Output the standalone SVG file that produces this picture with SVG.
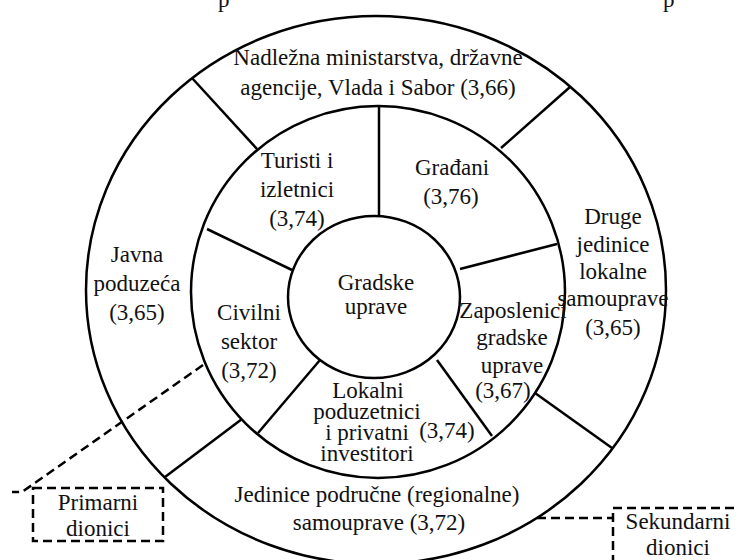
<svg xmlns="http://www.w3.org/2000/svg" width="739" height="560" viewBox="0 0 739 560">
<style>
.ring{fill:none;stroke:#000;stroke-width:2.5}
.sp{stroke:#000;stroke-width:2.5;fill:none}
.dash{stroke:#000;stroke-width:2.5;fill:none;stroke-dasharray:9,5}
text{font-family:"Liberation Serif","Times New Roman",serif;font-size:23px;fill:#111;text-anchor:middle}
</style>
<rect width="739" height="560" fill="#fff"/>
<text x="218" y="7" style="text-anchor:start">p</text>
<text x="663" y="7" style="text-anchor:start">p</text>
<g id="outer-ring">
<ellipse class="ring" cx="376" cy="290" rx="290" ry="274"/>
</g>
<g id="middle-ring">
<ellipse class="ring" cx="378" cy="292" rx="187" ry="186"/>
</g>
<g id="connectors">
<line class="sp" x1="192" y1="78" x2="257" y2="149"/>
<line class="sp" x1="570" y1="87" x2="501" y2="148"/>
<line class="sp" x1="535" y1="393" x2="612" y2="448"/>
<line class="sp" x1="242" y1="419" x2="165" y2="477"/>
<line class="sp" x1="379" y1="107" x2="379" y2="216"/>
<line class="sp" x1="460" y1="269" x2="557" y2="244"/>
<line class="sp" x1="437" y1="360" x2="492" y2="436"/>
<line class="sp" x1="320" y1="360" x2="258" y2="433"/>
<line class="sp" x1="207" y1="229" x2="292" y2="270"/>
<polyline class="dash" points="203,365 22,492 12,492"/>
<line class="dash" x1="537" y1="518" x2="612" y2="518"/>
</g>
<g id="gradske-uprave">
<ellipse class="ring" cx="374" cy="297" rx="86" ry="81" fill="#fff"/>
<text x="376" y="290">Gradske</text>
<text x="376" y="314">uprave</text>
</g>
<g id="nadlezna">
<text x="378" y="65">Nadležna ministarstva, državne</text>
<text x="378" y="95">agencije, Vlada i Sabor (3,66)</text>
</g>
<g id="druge">
<text x="613" y="224">Druge</text>
<text x="613" y="252">jedinice</text>
<text x="613" y="279">lokalne</text>
<text x="613" y="306">samouprave</text>
<text x="613" y="335">(3,65)</text>
</g>
<g id="jedinice">
<text x="377" y="502">Jedinice područne (regionalne)</text>
<text x="379" y="530">samouprave (3,72)</text>
</g>
<g id="javna">
<text x="137" y="262">Javna</text>
<text x="137" y="291">poduzeća</text>
<text x="137" y="320">(3,65)</text>
</g>
<g id="turisti">
<text x="297" y="168">Turisti i</text>
<text x="297" y="197">izletnici</text>
<text x="297" y="226">(3,74)</text>
</g>
<g id="gradjani">
<text x="452" y="175">Građani</text>
<text x="451" y="204">(3,76)</text>
</g>
<g id="zaposlenici">
<text x="513" y="318">Zaposlenici</text>
<text x="512" y="345">gradske</text>
<text x="512" y="373">uprave</text>
<text x="503" y="398">(3,67)</text>
</g>
<g id="lokalni">
<text x="368" y="398">Lokalni</text>
<text x="367" y="419">poduzetnici</text>
<text x="367" y="440">i privatni</text>
<text x="367" y="461">investitori</text>
<text x="447" y="438">(3,74)</text>
</g>
<g id="civilni">
<text x="249" y="320">Civilni</text>
<text x="249" y="349">sektor</text>
<text x="249" y="378">(3,72)</text>
</g>
<g id="primarni">
<rect class="dash" x="33" y="488" width="130" height="53"/>
<text x="98" y="510">Primarni</text>
<text x="98" y="536">dionici</text>
</g>
<g id="sekundarni">
<rect class="dash" x="613" y="508" width="140" height="70"/>
<text x="678" y="529">Sekundarni</text>
<text x="678" y="555">dionici</text>
</g>
</svg>
